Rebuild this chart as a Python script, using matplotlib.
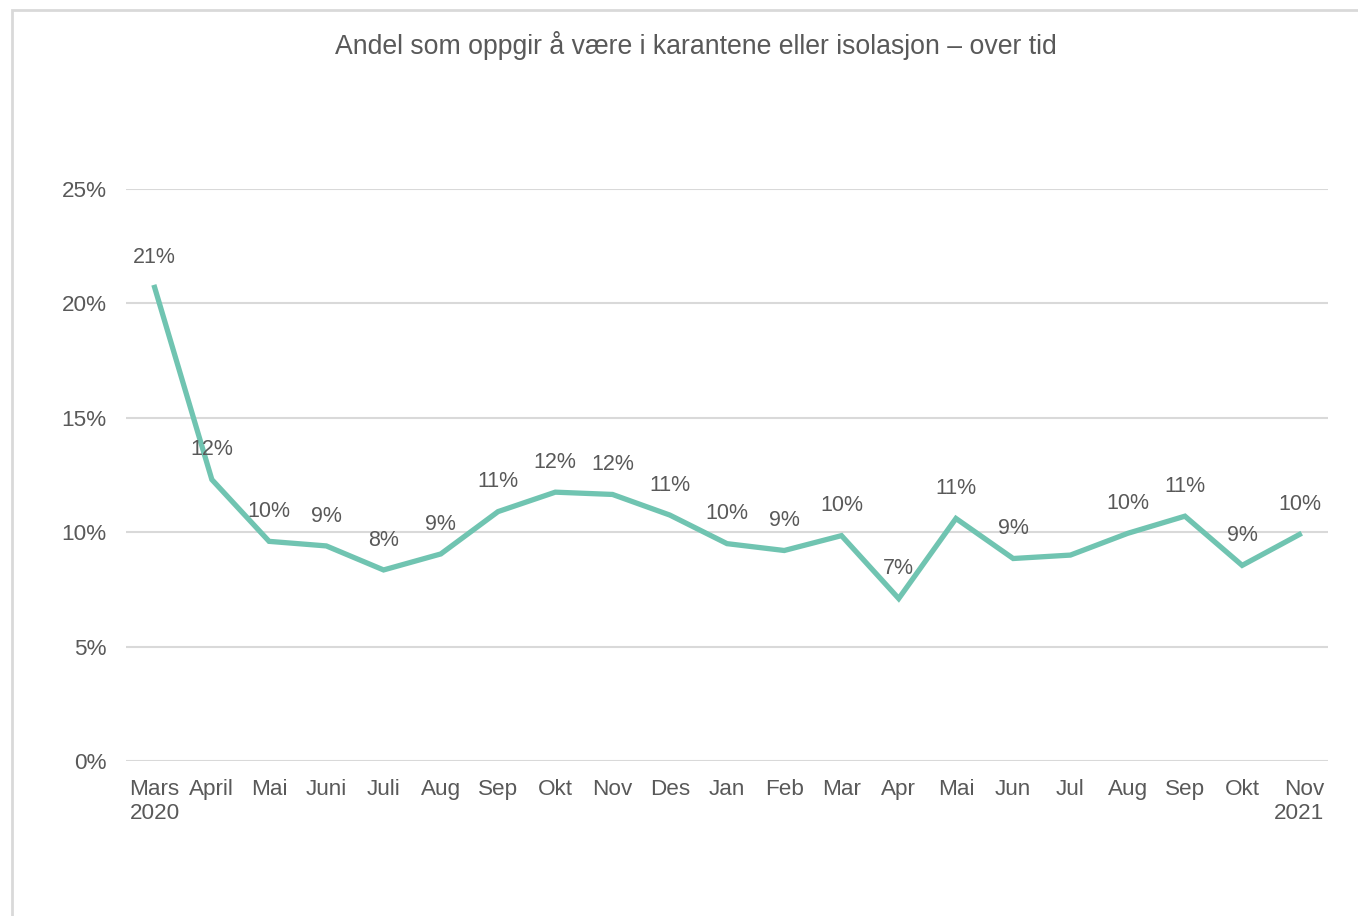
import matplotlib.pyplot as plt
from matplotlib.patches import Rectangle

plt.rcParams["font.family"] = ["Liberation Sans", "DejaVu Sans"]

months = ["Mars\n2020", "April", "Mai", "Juni", "Juli", "Aug", "Sep", "Okt", "Nov",
          "Des", "Jan", "Feb", "Mar", "Apr", "Mai", "Jun", "Jul", "Aug", "Sep",
          "Okt", "Nov\n2021"]
share = [20.7, 12.3, 9.6, 9.4, 8.35, 9.05, 10.9, 11.75, 11.65, 10.75, 9.5, 9.2,
         9.85, 7.1, 10.6, 8.85, 9.0, 9.95, 10.7, 8.55, 9.9]
# data labels as shown in the source (Jul has none)
labels = ["21%", "12%", "10%", "9%", "8%", "9%", "11%", "12%", "12%", "11%", "10%",
          "9%", "10%", "7%", "11%", "9%", "", "10%", "11%", "9%", "10%"]
yticks = [0, 5, 10, 15, 20, 25]

text_col = "#595959"
line_col = "#70C4B1"
grid_col = "#D9D9D9"

fig = plt.figure(figsize=(13.58, 9.16), dpi=100)
ax = fig.add_axes([126 / 1358, 1 - 761 / 916, 1202 / 1358, 572 / 916])

x = list(range(len(months)))
ax.plot(x, share, color=line_col, lw=3.8, solid_joinstyle="miter", zorder=3)
for xi, v, lab in zip(x, share, labels):
    ax.annotate(lab, (xi, v), xytext=(0, 21.5), textcoords="offset points",
                ha="center", va="center", fontsize=15.5, color=text_col)

ax.set_xlim(-0.5, len(months) - 0.5)
ax.set_ylim(0, 25)
ax.set_yticks(yticks)
ax.set_yticklabels([f"{t}%" for t in yticks])
ax.set_xticks(x)
ax.set_xticklabels(months)
tl = ax.get_xticklabels()
tl[0].set_multialignment("left")
tl[-1].set_multialignment("right")
ax.tick_params(axis="both", length=0, labelsize=16.2, colors=text_col)
ax.tick_params(axis="y", pad=14)
ax.tick_params(axis="x", pad=13)
ax.grid(axis="y", color=grid_col, lw=1.5)
ax.set_axisbelow(True)
for s in ax.spines.values():
    s.set_visible(False)

fig.text(696 / 1358, 1 - 46 / 916, "Andel som oppgir å være i karantene eller isolasjon – over tid",
         ha="center", va="center", fontsize=19.2, color=text_col)

fig.patches.append(Rectangle((12 / 1358, -0.05), 1.2, 1 - 10 / 916 + 0.05,
                             transform=fig.transFigure, fill=False,
                             edgecolor=grid_col, lw=2))

fig.savefig("out.png", dpi=100)
